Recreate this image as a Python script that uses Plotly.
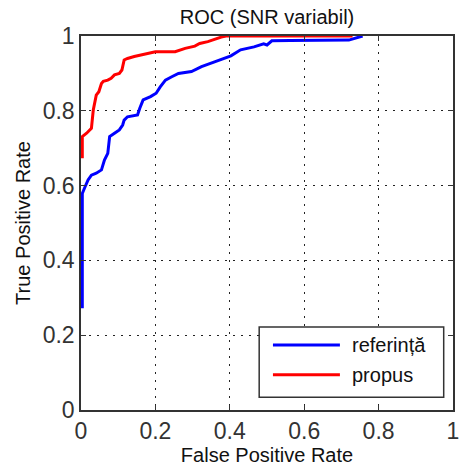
import plotly.graph_objects as go

# ---- data ----
ref_fpr = [0.0, 0.0035, 0.0035, 0.0035, 0.011, 0.019, 0.028, 0.041, 0.055, 0.063, 0.072,
           0.077, 0.090, 0.103, 0.112, 0.116, 0.125, 0.152, 0.158, 0.167, 0.187, 0.202,
           0.213, 0.227, 0.244, 0.262, 0.297, 0.324, 0.359, 0.385, 0.403, 0.429, 0.465,
           0.491, 0.500, 0.513, 0.562, 0.720, 0.747, 0.757]
ref_tpr = [0.276, 0.276, 0.455, 0.579, 0.597, 0.615, 0.628, 0.633, 0.642, 0.668, 0.686,
           0.731, 0.740, 0.749, 0.762, 0.775, 0.784, 0.789, 0.807, 0.829, 0.838, 0.847,
           0.864, 0.882, 0.891, 0.900, 0.905, 0.918, 0.931, 0.940, 0.947, 0.963, 0.971,
           0.979, 0.976, 0.987, 0.988, 0.989, 0.997, 1.0]

prop_fpr = [0.0035, 0.0035, 0.015, 0.028, 0.033, 0.037, 0.041, 0.048, 0.055, 0.060, 0.072,
            0.081, 0.090, 0.103, 0.110, 0.116, 0.125, 0.143, 0.160, 0.183, 0.200, 0.253,
            0.266, 0.280, 0.306, 0.319, 0.341, 0.359, 0.377, 0.390, 0.730]
prop_tpr = [0.673, 0.731, 0.740, 0.753, 0.802, 0.824, 0.842, 0.851, 0.873, 0.879, 0.882,
            0.887, 0.896, 0.900, 0.909, 0.936, 0.940, 0.945, 0.949, 0.956, 0.958, 0.958,
            0.963, 0.967, 0.973, 0.980, 0.985, 0.992, 0.997, 1.0, 1.0]

series_names = ["referință", "propus"]
series_colors = ["#0000FF", "#FF0000"]
tick_vals = [0, 0.2, 0.4, 0.6, 0.8, 1]
tick_text = ["0", "0.2", "0.4", "0.6", "0.8", "1"]

FONT = "Liberation Sans, Arial, sans-serif"

fig = go.Figure()
fig.add_trace(go.Scatter(x=ref_fpr, y=ref_tpr, mode="lines", name=series_names[0],
                         line=dict(color=series_colors[0], width=3), showlegend=False))
fig.add_trace(go.Scatter(x=prop_fpr, y=prop_tpr, mode="lines", name=series_names[1],
                         line=dict(color=series_colors[1], width=3), showlegend=False))

axis_common = dict(
    range=[0, 1], tickvals=tick_vals, ticktext=tick_text,
    showgrid=True, gridcolor="#222222", griddash="2px,6px", gridwidth=1,
    showline=True, linecolor="#333333", linewidth=1.5, mirror="ticks",
    ticks="inside", ticklen=5, tickcolor="#333333", tickwidth=1,
    zeroline=False, tickfont=dict(family=FONT, size=23, color="#333333"),
    ticklabeloverflow="allow",
)

fig.update_layout(
    width=459, height=467,
    margin=dict(l=81, r=0, t=36, b=57),
    paper_bgcolor="white", plot_bgcolor="white",
    title=dict(text="ROC (SNR variabil)", x=0.5, xref="paper", xanchor="center",
               y=1 - 17 / 467, yref="container", yanchor="middle",
               font=dict(family=FONT, size=20, color="#111111")),
    xaxis=dict(**axis_common,
               title=dict(text="False Positive Rate", standoff=5,
                          font=dict(family=FONT, size=20, color="#111111"))),
    yaxis=dict(**axis_common,
               title=dict(text="True Positive Rate", standoff=7,
                          font=dict(family=FONT, size=20, color="#111111"))),
    showlegend=False,
)

# custom legend box (MATLAB-style)
lx0, lx1, ly0, ly1 = 0.479, 0.975, 0.034, 0.222
fig.add_shape(type="rect", xref="paper", yref="paper", x0=lx0, x1=lx1, y0=ly0, y1=ly1,
              line=dict(color="#333333", width=1.5), fillcolor="white", layer="above")
row_y = [0.174, 0.094]
for name, color, yy in zip(series_names, series_colors, row_y):
    fig.add_shape(type="line", xref="paper", yref="paper", x0=0.516, x1=0.696, y0=yy, y1=yy,
                  line=dict(color=color, width=3), layer="above")
    fig.add_annotation(text=name, xref="paper", yref="paper", x=0.722, y=yy,
                       xanchor="left", yanchor="middle", showarrow=False,
                       font=dict(family=FONT, size=20, color="#111111"))

fig.write_html("out.html")
